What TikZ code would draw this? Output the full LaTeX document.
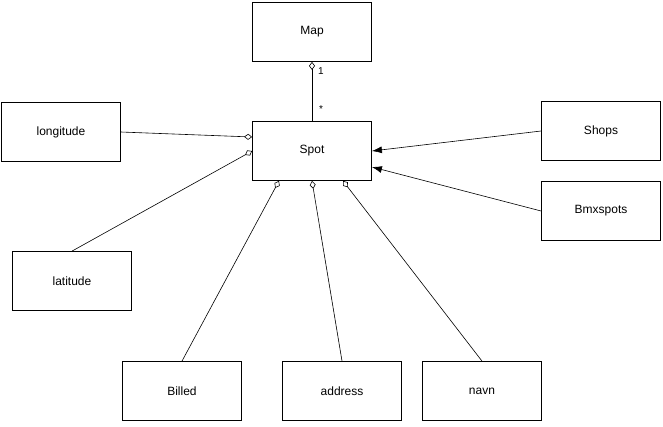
\documentclass[tikz,border=0pt]{standalone}
\usepackage{fontspec}
\setmainfont{Liberation Sans}
\usetikzlibrary{arrows.meta}
\begin{document}
\begin{tikzpicture}[x=1pt,y=-1pt,
  cls/.style={draw,line width=0.8pt,minimum width=119pt,minimum height=59pt,inner sep=0pt,font=\fontsize{12}{14}\selectfont},
  agg/.style={draw,line width=0.6pt,{Diamond[open,length=8pt,width=6pt,line width=0.6pt]}-},
  gen/.style={draw,line width=0.6pt,-{Latex[length=10pt,width=7pt]}},
  lbl/.style={inner sep=0pt,font=\fontsize{10}{12}\selectfont}]
\useasboundingbox (0,0) rectangle (663,426);
\node[cls] (map) at (312,32) {Map};
\node[cls] (spot) at (312,151) {Spot};
\node[cls] (lon) at (61,132) {longitude};
\node[cls] (lat) at (72,281) {latitude};
\node[cls] (shops) at (601,131) {Shops};
\node[cls] (bmx) at (601,211) {Bmxspots};
\node[cls] (billed) at (182,391) {Billed};
\node[cls] (addr) at (342,391) {address};
\node[cls] (navn) at (482,391) {navn};
\draw[agg] (map.south) -- (spot.north);
\node[lbl] (one) at (321,71) {1};
\node[lbl] (star) at (321,109) {*};
\draw[agg] ([yshift=14pt]spot.west) -- (lon.east);
\draw[agg] (spot.west) -- (lat.north);
\draw[agg] ([xshift=-33pt]spot.south) -- (billed.north);
\draw[agg] (spot.south) -- (addr.north);
\draw[agg] ([xshift=31pt]spot.south) -- (navn.north);
\draw[gen] (shops.west) -- (spot.east);
\draw[gen] (bmx.west) -- ([yshift=-16pt]spot.east);
\end{tikzpicture}
\end{document}
